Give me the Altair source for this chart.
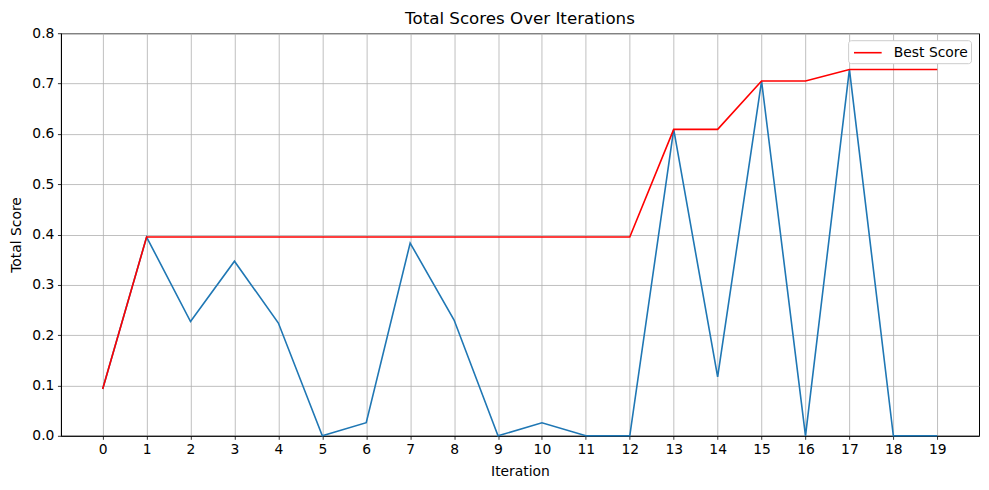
import altair as alt
import pandas as pd

iterations = list(range(20))
scores = [0.093, 0.395, 0.227, 0.347, 0.224, 0.0, 0.026, 0.383, 0.230, 0.0,
          0.026, 0.0, 0.0, 0.609, 0.117, 0.705, 0.0, 0.728, 0.0, 0.0]
best = []
m = float("-inf")
for s in scores:
    m = max(m, s)
    best.append(m)

df = pd.DataFrame({"Iteration": iterations, "Score": scores, "Best": best, "series": ["Best Score"] * 20})

FONT = "DejaVu Sans"

x = alt.X("Iteration:Q", scale=alt.Scale(domain=[-0.95, 19.95], nice=False, zero=False),
          axis=alt.Axis(values=iterations, format="d", title="Iteration"))
y_axis = alt.Axis(values=[i / 10 for i in range(9)], format=".1f", title="Total Score")
yscale = alt.Scale(domain=[0, 0.8], nice=False)

blue = alt.Chart(df).mark_line(color="#1f77b4", strokeWidth=1.6).encode(
    x=x, y=alt.Y("Score:Q", scale=yscale, axis=y_axis))

red = alt.Chart(df).mark_line(strokeWidth=1.6).encode(
    x=x,
    y=alt.Y("Best:Q", scale=yscale, axis=y_axis),
    color=alt.Color("series:N", scale=alt.Scale(domain=["Best Score"], range=["red"]),
                    legend=alt.Legend(title=None, orient="none", legendX=788, legendY=7,
                                      symbolType="M-1.6,0L1.6,0", symbolStrokeWidth=1.6, symbolSize=300,
                                      symbolOffset=7.2,
                                      labelFontSize=13.9, labelFont=FONT, labelColor="black",
                                      labelOffset=16.5,
                                      strokeColor="#cccccc", fillColor="white", padding=3,
                                      cornerRadius=3)))

chart = (blue + red).properties(
    width=919, height=403,
    title=alt.Title("Total Scores Over Iterations", fontSize=16.7, font=FONT, fontWeight="normal",
                    color="black", offset=-1),
    autosize=alt.AutoSizeParams(type="none"),
    padding={"left": 53, "top": 25, "right": 2, "bottom": 46},
).configure_axis(
    grid=True, gridColor="#b0b0b0", gridWidth=0.8, gridOpacity=1,
    domainColor="black", domainWidth=1, tickColor="black", tickSize=3.5, tickWidth=0.8,
    labelFont=FONT, labelFontSize=13.9, labelColor="black", labelPadding=3.5,
    titleFont=FONT, titleFontSize=13.9, titleFontWeight="normal", titleColor="black",
).configure_axisX(titlePadding=8).configure_axisY(titlePadding=8).configure_view(
    stroke="black", strokeWidth=1)

chart.save("out.html", embed_options={"renderer": "svg", "actions": False})
